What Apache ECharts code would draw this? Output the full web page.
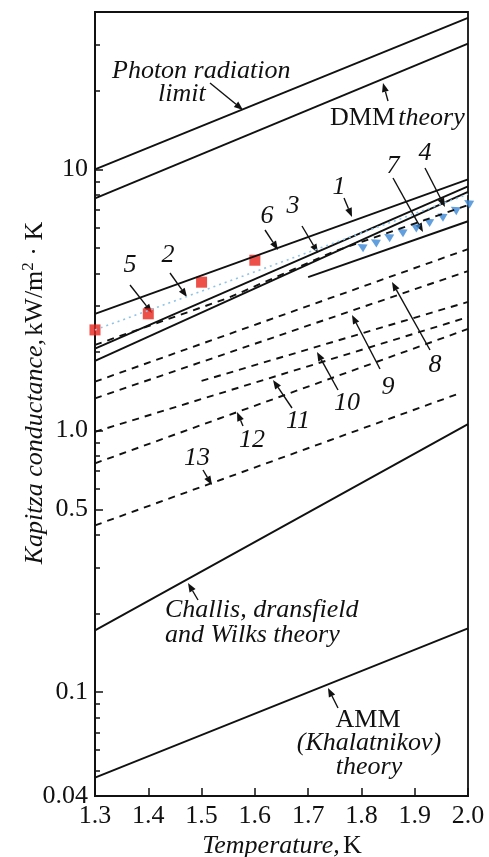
<!DOCTYPE html>
<html>
<head>
<meta charset="utf-8">
<script src="https://cdn.jsdelivr.net/npm/echarts@6/dist/echarts.min.js"></script>
<style>
html, body { margin: 0; padding: 0; background: #fff; }
#chart { width: 489px; height: 857px; }
</style>
</head>
<body>
<div id="chart"></div>
<script>
// axis ticks / labels
const tempTicks = [1.3, 1.4, 1.5, 1.6, 1.7, 1.8, 1.9, 2.0]
const condLabels = [0.04, 0.1, 0.5, 1, 10]
const condMajor = [0.1, 0.5, 1, 10]
const condMinor = [0.05, 0.06, 0.07, 0.08, 0.09, 0.2, 0.3, 0.4, 0.6, 0.7, 0.8, 0.9,
  2, 3, 4, 5, 6, 7, 8, 9, 20, 30]

// [temperature K, conductance kW/m2K]
const photonLimit = [[1.3, 10.0], [2.0, 38.0]]
const dmmTheory = [[1.3, 7.75], [2.0, 30.3]]
const curve1 = [[1.3, 2.80], [2.0, 9.16]]
const curve2 = [[1.3, 2.06], [2.0, 8.6]]
const curve3 = [[1.3, 1.85], [2.0, 8.2]]
const curve7 = [[1.7, 3.87], [2.0, 6.33]]
const curve6 = [[1.3, 2.13], [1.55, 3.22], [1.75, 4.86], [2.0, 7.3]]
const curve5Fit = [[1.3, 2.43], [2.0, 8.03]]
const curve5 = [[1.3, 2.43], [1.4, 2.80], [1.5, 3.70], [1.6, 4.49]]
const curve4 = [[1.8, 5.08], [1.825, 5.3], [1.85, 5.55], [1.875, 5.8], [1.9, 6.05],
  [1.925, 6.35], [1.95, 6.65], [1.975, 7.05], [2.0, 7.48]]
const curve8 = [[1.3, 1.54], [2.0, 4.95]]
const curve9 = [[1.3, 1.33], [2.0, 4.08]]
const curve10 = [[1.5, 1.55], [2.0, 3.11]]
const curve11 = [[1.3, 0.99], [2.0, 2.72]]
const curve12 = [[1.3, 0.75], [2.0, 2.45]]
const curve13 = [[1.3, 0.434], [1.98, 1.38]]
const challis = [[1.3, 0.172], [2.0, 1.06]]
const amm = [[1.3, 0.047], [2.0, 0.175]]

const INK = '#111'
const SERIF = 'Liberation Serif'
const FS = 26

function solid(data) {
  return { type: 'line', data: data, symbol: 'none', silent: true,
    lineStyle: { color: INK, width: 1.9 } }
}
function dashed(data) {
  return { type: 'line', data: data, symbol: 'none', silent: true,
    lineStyle: { color: INK, width: 1.9, type: [7, 6] } }
}

function arrow(x1, y1, x2, y2) {
  const a = Math.atan2(y2 - y1, x2 - x1)
  const L = 9, W = 3.5
  const bx = x2 - L * Math.cos(a), by = y2 - L * Math.sin(a)
  return [
    { type: 'line', silent: true, shape: { x1: x1, y1: y1, x2: bx, y2: by },
      style: { stroke: INK, lineWidth: 1.4 } },
    { type: 'polygon', silent: true,
      shape: { points: [[x2, y2], [bx - W * Math.sin(a), by + W * Math.cos(a)],
        [bx + W * Math.sin(a), by - W * Math.cos(a)]] },
      style: { fill: INK } },
  ]
}
function font(italic, size) {
  return (italic ? 'italic ' : '') + (size || FS) + 'px "' + SERIF + '"'
}
function label(x, y, text, italic, align) {
  return { type: 'text', silent: true, x: x, y: y,
    style: { text: text, fill: INK, font: font(italic), align: align || 'center', verticalAlign: 'middle' } }
}
const mixed = { r: { font: font(false), fill: INK }, i: { font: font(true), fill: INK } }

const chart = echarts.init(document.getElementById('chart'))

const graphics = [].concat(
  label(112, 71, 'Photon radiation', true, 'left'),
  label(158, 94, 'limit', true, 'left'),
  arrow(210, 83, 243, 110),
  { type: 'text', silent: true, x: 330, y: 118,
    style: { text: '{r|DMM} {i|theory}', align: 'left', verticalAlign: 'middle', rich: mixed } },
  arrow(388, 101, 383, 83),
  label(339, 187, '1', true), arrow(344, 198, 352, 217),
  label(267, 216, '6', true), arrow(265, 230, 278, 250),
  label(293, 206, '3', true), arrow(302, 226, 318, 253),
  label(168, 255, '2', true), arrow(170, 273, 187, 297),
  label(130, 265, '5', true), arrow(130, 285, 152, 313),
  label(393, 166, '7', true), arrow(393, 178, 423, 232),
  label(425, 153, '4', true), arrow(425, 168, 445, 207),
  label(435, 365, '8', true), arrow(430, 350, 392, 282),
  label(388, 387, '9', true), arrow(380, 369, 352, 315),
  label(347, 403, '10', true), arrow(338, 390, 317, 352),
  label(298, 421, '11', true), arrow(292, 408, 273, 380),
  label(252, 440, '12', true), arrow(243, 426, 237, 412),
  label(197, 458, '13', true), arrow(203, 470, 212, 485),
  label(165, 610, 'Challis, dransfield', true, 'left'),
  label(165, 635, 'and Wilks theory', true, 'left'),
  arrow(198, 600, 188, 583),
  label(368, 720, 'AMM', false),
  label(369, 743, '(Khalatnikov)', true),
  label(369, 767, 'theory', true),
  arrow(338, 708, 328, 688),
  { type: 'text', silent: true, x: 282, y: 846,
    style: { text: '{i|Temperature,} {r|K}', align: 'center', verticalAlign: 'middle', rich: mixed } },
  { type: 'text', silent: true, x: 35, y: 393, rotation: Math.PI / 2,
    style: { text: '{i|Kapitza conductance,} {r|kW/m}{s|2}{r| · K}', align: 'center', verticalAlign: 'middle',
      rich: {
        r: { font: font(false), fill: INK },
        i: { font: font(true), fill: INK },
        s: { font: font(false, 17), fill: INK, padding: [0, 0, 13, 0] },
      } } }
)

chart.setOption({
  animation: false,
  backgroundColor: '#fff',
  grid: { left: 95, right: 21, top: 12, bottom: 61, show: true, borderColor: INK, borderWidth: 1.8 },
  xAxis: {
    type: 'value', min: 1.3, max: 2.0,
    axisLine: { lineStyle: { color: INK, width: 2 } },
    axisTick: { inside: true, length: 8, lineStyle: { color: INK, width: 1.5 }, customValues: tempTicks },
    axisLabel: { customValues: tempTicks, color: INK, fontFamily: SERIF, fontSize: FS, margin: 7,
      formatter: (v) => v.toFixed(1) },
    splitLine: { show: false },
  },
  yAxis: [{
    type: 'log', logBase: 10, min: 0.04, max: 40,
    axisLine: { lineStyle: { color: INK, width: 2 } },
    axisTick: { inside: true, length: 5, lineStyle: { color: INK, width: 1.5 }, customValues: condMinor },
    axisLabel: { customValues: condLabels, color: INK, fontFamily: SERIF, fontSize: FS, margin: 7,
      formatter: (v) => (Math.abs(v - 1) < 1e-9 ? '1.0' : String(+v.toPrecision(3))) },
    splitLine: { show: false },
  }, {
    type: 'log', logBase: 10, min: 0.04, max: 40, position: 'left',
    axisLine: { show: false },
    axisTick: { inside: true, length: 8, lineStyle: { color: INK, width: 1.5 }, customValues: condMajor },
    axisLabel: { show: false },
    splitLine: { show: false },
  }],
  series: [
    solid(photonLimit), solid(dmmTheory),
    solid(curve1), solid(curve2), solid(curve3), solid(curve7),
    dashed(curve6),
    { type: 'line', data: curve5Fit, symbol: 'none', silent: true,
      lineStyle: { color: '#8fc3e6', width: 1.6, type: [2, 4] } },
    dashed(curve8), dashed(curve9), dashed(curve10), dashed(curve11), dashed(curve12), dashed(curve13),
    solid(challis), solid(amm),
    { type: 'scatter', data: curve5, symbol: 'rect', symbolSize: 11, silent: true,
      itemStyle: { color: '#e8241c' } },
    { type: 'scatter', data: curve4, symbol: 'triangle', symbolSize: 9, symbolRotate: 60, silent: true,
      itemStyle: { color: '#3a87d6' } },
  ],
  graphic: graphics,
})
</script>
</body>
</html>
